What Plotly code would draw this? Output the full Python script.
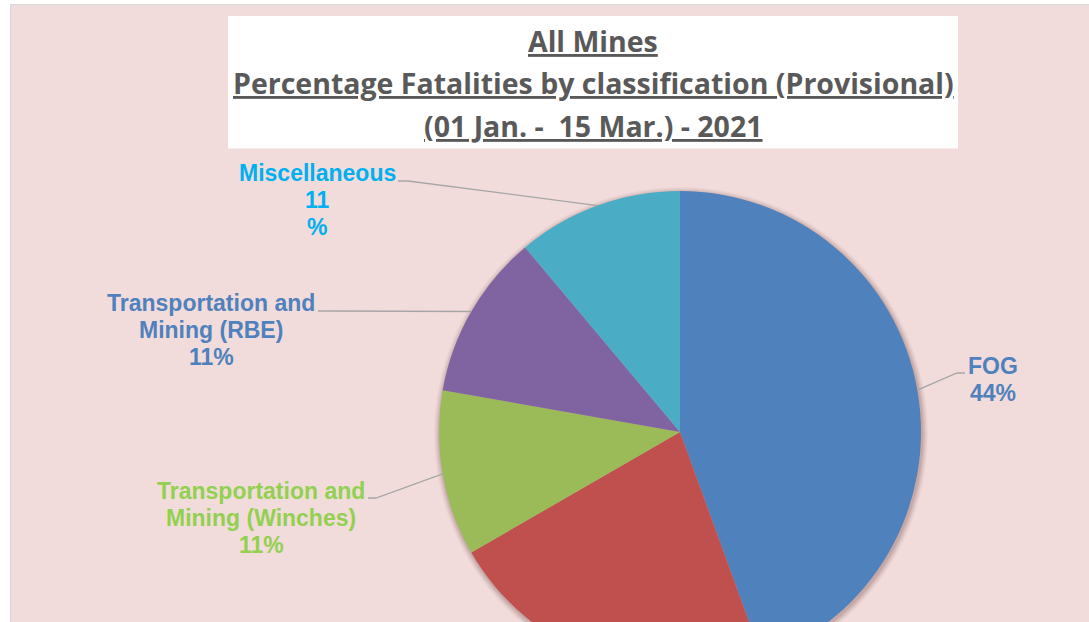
import math
import plotly.graph_objects as go

# ---- data ----
categories = ["FOG", "Other (red)", "Transportation and Mining (Winches)",
              "Transportation and Mining (RBE)", "Miscellaneous"]
values = [4, 2, 1, 1, 1]
slice_colors = ["#4F81BD", "#C0504D", "#9BBB59", "#8064A2", "#4BACC6"]
label_lines = [["FOG"], None, ["Transportation and", "Mining (Winches)"],
               ["Transportation and", "Mining (RBE)"], ["Miscellaneous", "11"]]
label_colors = ["#4F81BD", None, "#92D050", "#4F81BD", "#00B0F0"]
title_lines = ["All Mines",
               "Percentage Fatalities by classification (Provisional)",
               "(01 Jan. -  15 Mar.) - 2021"]

# ---- layout geometry (pixels) ----
W, H = 1089, 700
CX, CY, R = 680, 432, 241
# label block centre x, first line centre y, leader start (x,y), elbow x
label_layout = [
    dict(cx=993, y0=366, lx=965, ly=373, ex=957),
    None,
    dict(cx=261, y0=491, lx=368, ly=498, ex=376),
    dict(cx=211, y0=303, lx=318, ly=311, ex=326),
    dict(cx=317, y0=173, lx=398, ly=181, ex=408),
]
LINE_H = 27


def px(x):
    return x / W


def py(y):
    return 1 - y / H


fig = go.Figure()
fig.add_trace(go.Pie(
    labels=categories, values=values, sort=False, direction="clockwise",
    rotation=0, marker=dict(colors=slice_colors, line=dict(width=0)),
    textinfo="none", hoverinfo="label+percent", showlegend=False,
    domain=dict(x=[px(CX - R), px(CX + R)], y=[py(CY + R), py(CY - R)]),
))

shapes = []
# outer pink panel
shapes.append(dict(type="rect", xref="paper", yref="paper",
                   x0=px(10.5), x1=px(1100), y0=py(4.5), y1=py(H + 10),
                   fillcolor="#F2DCDB", line=dict(color="#D9D9D9", width=1),
                   layer="below"))
# title box
shapes.append(dict(type="rect", xref="paper", yref="paper",
                   x0=px(228), x1=px(958), y0=py(16), y1=py(148.5),
                   fillcolor="#FFFFFF", line=dict(width=0), layer="below"))
# soft shadow of the pie
for i, op in zip(range(6, 0, -1), [0.04, 0.05, 0.06, 0.07, 0.08, 0.10]):
    rr = R + i
    shapes.append(dict(type="circle", xref="paper", yref="paper",
                       x0=px(CX + 1 - rr), x1=px(CX + 1 + rr),
                       y0=py(CY + 2 + rr), y1=py(CY + 2 - rr),
                       fillcolor=f"rgba(110,70,70,{op})", line=dict(width=0),
                       layer="below"))

annotations = []
title_y = [41, 83, 126]
for t, yy in zip(title_lines, title_y):
    annotations.append(dict(
        text=f"<b>{t}</b>", x=px(593), y=py(yy), xref="paper", yref="paper",
        xanchor="center", yanchor="middle", showarrow=False,
        font=dict(family="Open Sans", size=28.5, color="#595959",
                  lineposition="under"),
    ))

total = sum(values)
cum = 0
for i, v in enumerate(values):
    mid = (cum + v / 2) / total * 2 * math.pi
    cum += v
    lay = label_layout[i]
    if lay is None:
        continue
    pct = round(v / total * 100)
    lines = list(label_lines[i])
    if categories[i] == "Miscellaneous":
        lines = ["Miscellaneous", f"{pct}", "%"]
    else:
        lines = lines + [f"{pct}%"]
    for k, ln in enumerate(lines):
        annotations.append(dict(
            text=f"<b>{ln}</b>", x=px(lay["cx"]), y=py(lay["y0"] + k * LINE_H),
            xref="paper", yref="paper", xanchor="center", yanchor="middle",
            showarrow=False,
            font=dict(family="Liberation Sans, Arial", size=23,
                      color=label_colors[i]),
        ))
    ex_pt = CX + R * math.sin(mid)
    ey_pt = CY - R * math.cos(mid)
    path = (f"M {px(lay['lx'])},{py(lay['ly'])} L {px(lay['ex'])},{py(lay['ly'])} "
            f"L {px(ex_pt)},{py(ey_pt)}")
    shapes.append(dict(type="path", xref="paper", yref="paper", path=path,
                       line=dict(color="#A6A6A6", width=1.3), layer="above"))

fig.update_layout(
    width=W, height=H, margin=dict(l=0, r=0, t=0, b=0),
    paper_bgcolor="#FFFFFF", plot_bgcolor="#FFFFFF",
    shapes=shapes, annotations=annotations, showlegend=False,
)

fig.write_html(
    "out.html",
    config=dict(displayModeBar=False),
    post_script="document.documentElement.style.overflow='hidden';"
                "document.body.style.overflow='hidden';document.body.style.margin='0';",
)
